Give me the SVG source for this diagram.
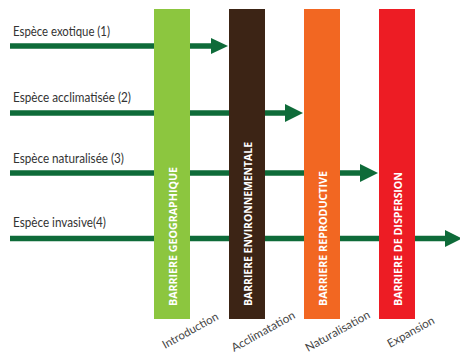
<svg xmlns="http://www.w3.org/2000/svg" width="460" height="354" viewBox="0 0 460 354">
<style>
.lbl{font-family:Lato,"Liberation Sans",Arial,sans-serif;font-size:14px;fill:#333;}
.bar{font-family:"Open Sans","Liberation Sans",sans-serif;font-size:10px;font-weight:bold;fill:#fff;}
.stage{font-family:Lato,"Liberation Sans",Arial,sans-serif;font-size:11.5px;fill:#444;}
.ln{stroke:#0e6b39;stroke-width:5.5;fill:none;}
.hd{fill:#0e6b39;}
</style>
<rect width="460" height="354" fill="#fff"/>
<g id="connectors">
<line class="ln" x1="10" y1="46" x2="213" y2="46"/>
<polygon class="hd" points="211,38 228,46 211,54"/>
<line class="ln" x1="10" y1="113" x2="287" y2="113"/>
<polygon class="hd" points="285,104 303,113 285,122"/>
<line class="ln" x1="10" y1="173" x2="362" y2="173"/>
<polygon class="hd" points="360,164 378,173 360,182"/>
<line class="ln" x1="10" y1="238.5" x2="447" y2="238.5"/>
<polygon class="hd" points="445,230 462,238.5 445,247"/>
</g>
<g id="species">
<text class="lbl" x="13" y="36" textLength="97" lengthAdjust="spacingAndGlyphs">Espèce exotique (1)</text>
<text class="lbl" x="13" y="102" textLength="118" lengthAdjust="spacingAndGlyphs">Espèce acclimatisée (2)</text>
<text class="lbl" x="13" y="163" textLength="111" lengthAdjust="spacingAndGlyphs">Espèce naturalisée (3)</text>
<text class="lbl" x="13" y="227" textLength="93" lengthAdjust="spacingAndGlyphs">Espèce invasive(4)</text>
</g>
<g id="barriere-geographique">
<rect x="154" y="9" width="36" height="310" fill="#8cc63f"/>
<text class="bar" transform="translate(176.5,306) rotate(-90)" textLength="139" lengthAdjust="spacingAndGlyphs">BARRIERE GEOGRAPHIQUE</text>
</g>
<g id="barriere-environnementale">
<rect x="229" y="9" width="36" height="310" fill="#3c2415"/>
<text class="bar" transform="translate(251.5,306) rotate(-90)" textLength="164" lengthAdjust="spacingAndGlyphs">BARRIERE ENVIRONNEMENTALE</text>
</g>
<g id="barriere-reproductive">
<rect x="304" y="9" width="36" height="310" fill="#f26722"/>
<text class="bar" transform="translate(326.5,306) rotate(-90)" textLength="135" lengthAdjust="spacingAndGlyphs">BARRIERE REPRODUCTIVE</text>
</g>
<g id="barriere-dispersion">
<rect x="379" y="9" width="36" height="310" fill="#ed1c24"/>
<text class="bar" transform="translate(401.5,306) rotate(-90)" textLength="134" lengthAdjust="spacingAndGlyphs">BARRIERE DE DISPERSION</text>
</g>
<g id="stages">
<text class="stage" transform="translate(165,349) rotate(-29)" textLength="62" lengthAdjust="spacingAndGlyphs">Introduction</text>
<text class="stage" transform="translate(234,352) rotate(-29)" textLength="71" lengthAdjust="spacingAndGlyphs">Acclimatation</text>
<text class="stage" transform="translate(308,352) rotate(-29)" textLength="72" lengthAdjust="spacingAndGlyphs">Naturalisation</text>
<text class="stage" transform="translate(390,348) rotate(-29)" textLength="52" lengthAdjust="spacingAndGlyphs">Expansion</text>
</g>
</svg>
